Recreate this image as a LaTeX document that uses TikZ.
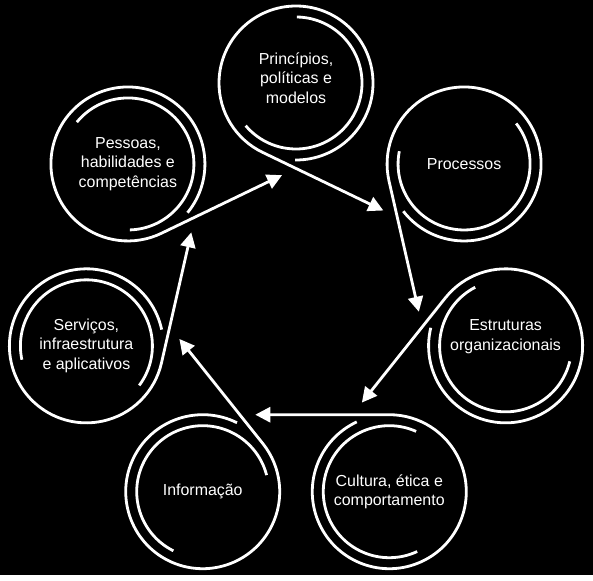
\documentclass[tikz,border=0pt]{standalone}
\usepackage{fontspec}
\setmainfont{Liberation Sans}
\usetikzlibrary{arrows.meta,calc}

\begin{document}
\begin{tikzpicture}[x=1bp, y=1bp, >={Triangle[length=15bp,width=15bp]}, line width=2.8bp, white]
  \fill[black] (0,0) rectangle (593,575);
  \coordinate (mid) at (296,277);
  % seven loops round the heptagon, each one leaving as a tangent arrow
  \foreach \i/\dy/\txt in {0/5/{Princípios,\\políticas e\\modelos}, 1/0/{Processos},
      2/9/{Estruturas\\organizacionais}, 3/0/{Cultura, ética e\\comportamento},
      4/0/{Informação}, 5/0/{Serviços,\\infraestrutura\\e aplicativos},
      6/0/{Pessoas,\\habilidades e\\competências}} {
    \pgfmathsetmacro\ang{90-\i*360/7}
    \pgfmathsetmacro\outang{\ang+154.29}
    \coordinate (c\i) at ($(mid)+(\ang:215)$);
    \coordinate (tip\i) at ($(c\i)+(\outang:77)+(\outang+90:134)$);
    \node[align=center, font=\fontsize{16}{19.5}\selectfont, yshift=\dy] (t\i) at (c\i) {\txt};
    \draw[->] ($(c\i)+(\outang+25:77)$) arc[start angle=\outang+25, delta angle=335, radius=77] -- (tip\i);
    \draw ($(c\i)+(\outang-24:66)$) arc[start angle=\outang-24, delta angle=229, radius=66];
  }
\end{tikzpicture}
\end{document}
